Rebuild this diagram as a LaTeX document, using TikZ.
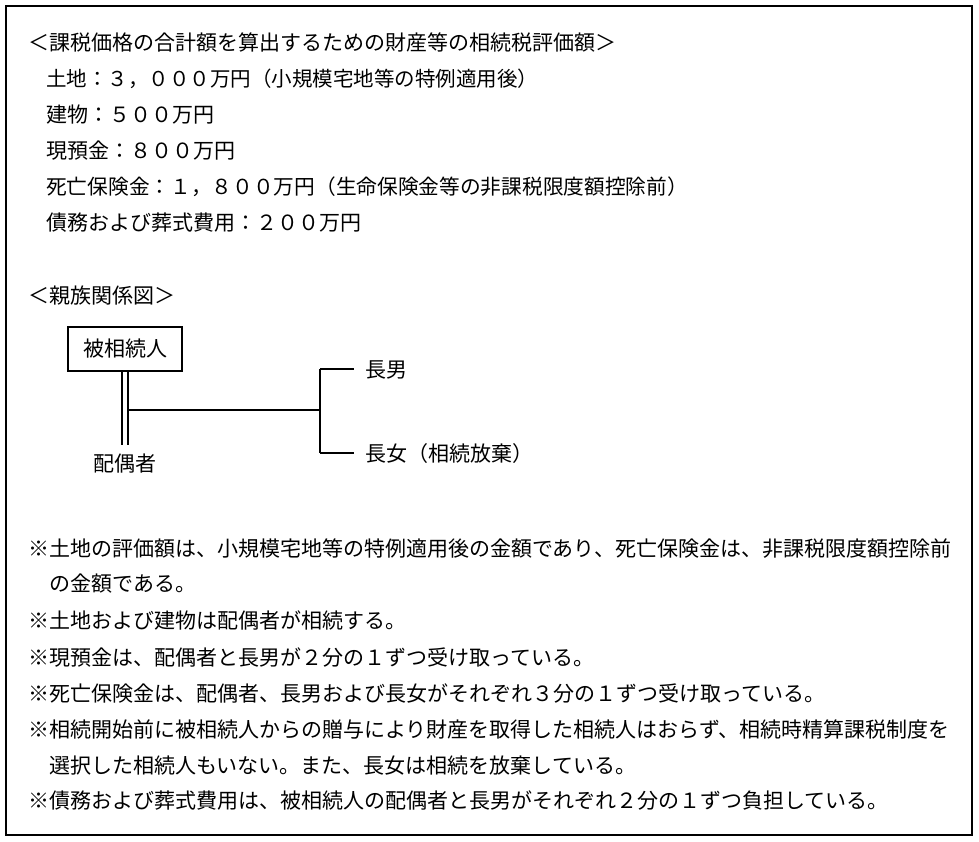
\documentclass[tikz,border=0pt]{standalone}
\usepackage{fontspec}
\setmainfont{Noto Sans CJK JP}
\begin{document}
\begin{tikzpicture}[x=1pt,y=-1pt,
  txt/.style={anchor=base west,inner sep=0pt,font=\fontsize{21}{25}\selectfont},
  famline/.style={line width=1.3pt,black},
  person/.style={inner sep=0pt,font=\fontsize{21}{25}\selectfont}]
\useasboundingbox (0,0) rectangle (979,842);
\draw[line width=1.6pt] (6,6) rectangle (972,835);
% property list
\node[txt] (t0) at (28,51) {＜課税価格の合計額を算出するための財産等の相続税評価額＞};
\node[txt,font=\fontsize{20.5}{25}\selectfont] (t1) at (46,87) {土地：３，０００万円（小規模宅地等の特例適用後）};
\node[txt] (t2) at (46,123) {建物：５００万円};
\node[txt] (t3) at (46,159) {現預金：８００万円};
\node[txt,font=\fontsize{20.7}{25}\selectfont] (t4) at (46,195) {死亡保険金：１，８００万円（生命保険金等の非課税限度額控除前）};
\node[txt] (t5) at (46,231) {債務および葬式費用：２００万円};
\node[txt] (t6) at (28,303) {＜親族関係図＞};
% family tree
\node[person,draw,line width=1.3pt,minimum width=114pt,minimum height=44pt] (dec) at (125,349) {被相続人};
\node[person] (sp) at (125,464) {配偶者};
\node[txt] (son) at (365,377) {長男};
\node[txt] (dau) at (365,461) {長女（相続放棄）};
\coordinate (m) at (128,410);
\coordinate (j) at (320,410);
\coordinate (js) at (320,369);
\coordinate (jd) at (320,453);
\coordinate (es) at (354,369);
\coordinate (ed) at (354,453);
\coordinate (s1) at (122,445);
\coordinate (s2) at (128,445);
\draw[famline] (dec.south -| s1) -- (s1);
\draw[famline] (dec.south -| s2) -- (s2);
\draw[famline] (m) -- (j);
\draw[famline] (js) -- (jd);
\draw[famline] (js) -- (es);
\draw[famline] (jd) -- (ed);
% notes
\node[txt] (n1) at (28,556) {※土地の評価額は、小規模宅地等の特例適用後の金額であり、死亡保険金は、非課税限度額控除前};
\node[txt] (n1b) at (49,591) {の金額である。};
\node[txt] (n2) at (28,628) {※土地および建物は配偶者が相続する。};
\node[txt] (n3) at (28,665) {※現預金は、配偶者と長男が２分の１ずつ受け取っている。};
\node[txt] (n4) at (28,701) {※死亡保険金は、配偶者、長男および長女がそれぞれ３分の１ずつ受け取っている。};
\node[txt] (n5) at (28,737) {※相続開始前に被相続人からの贈与により財産を取得した相続人はおらず、相続時精算課税制度を};
\node[txt] (n5b) at (49,773) {選択した相続人もいない。また、長女は相続を放棄している。};
\node[txt] (n6) at (28,808) {※債務および葬式費用は、被相続人の配偶者と長男がそれぞれ２分の１ずつ負担している。};
\end{tikzpicture}
\end{document}
